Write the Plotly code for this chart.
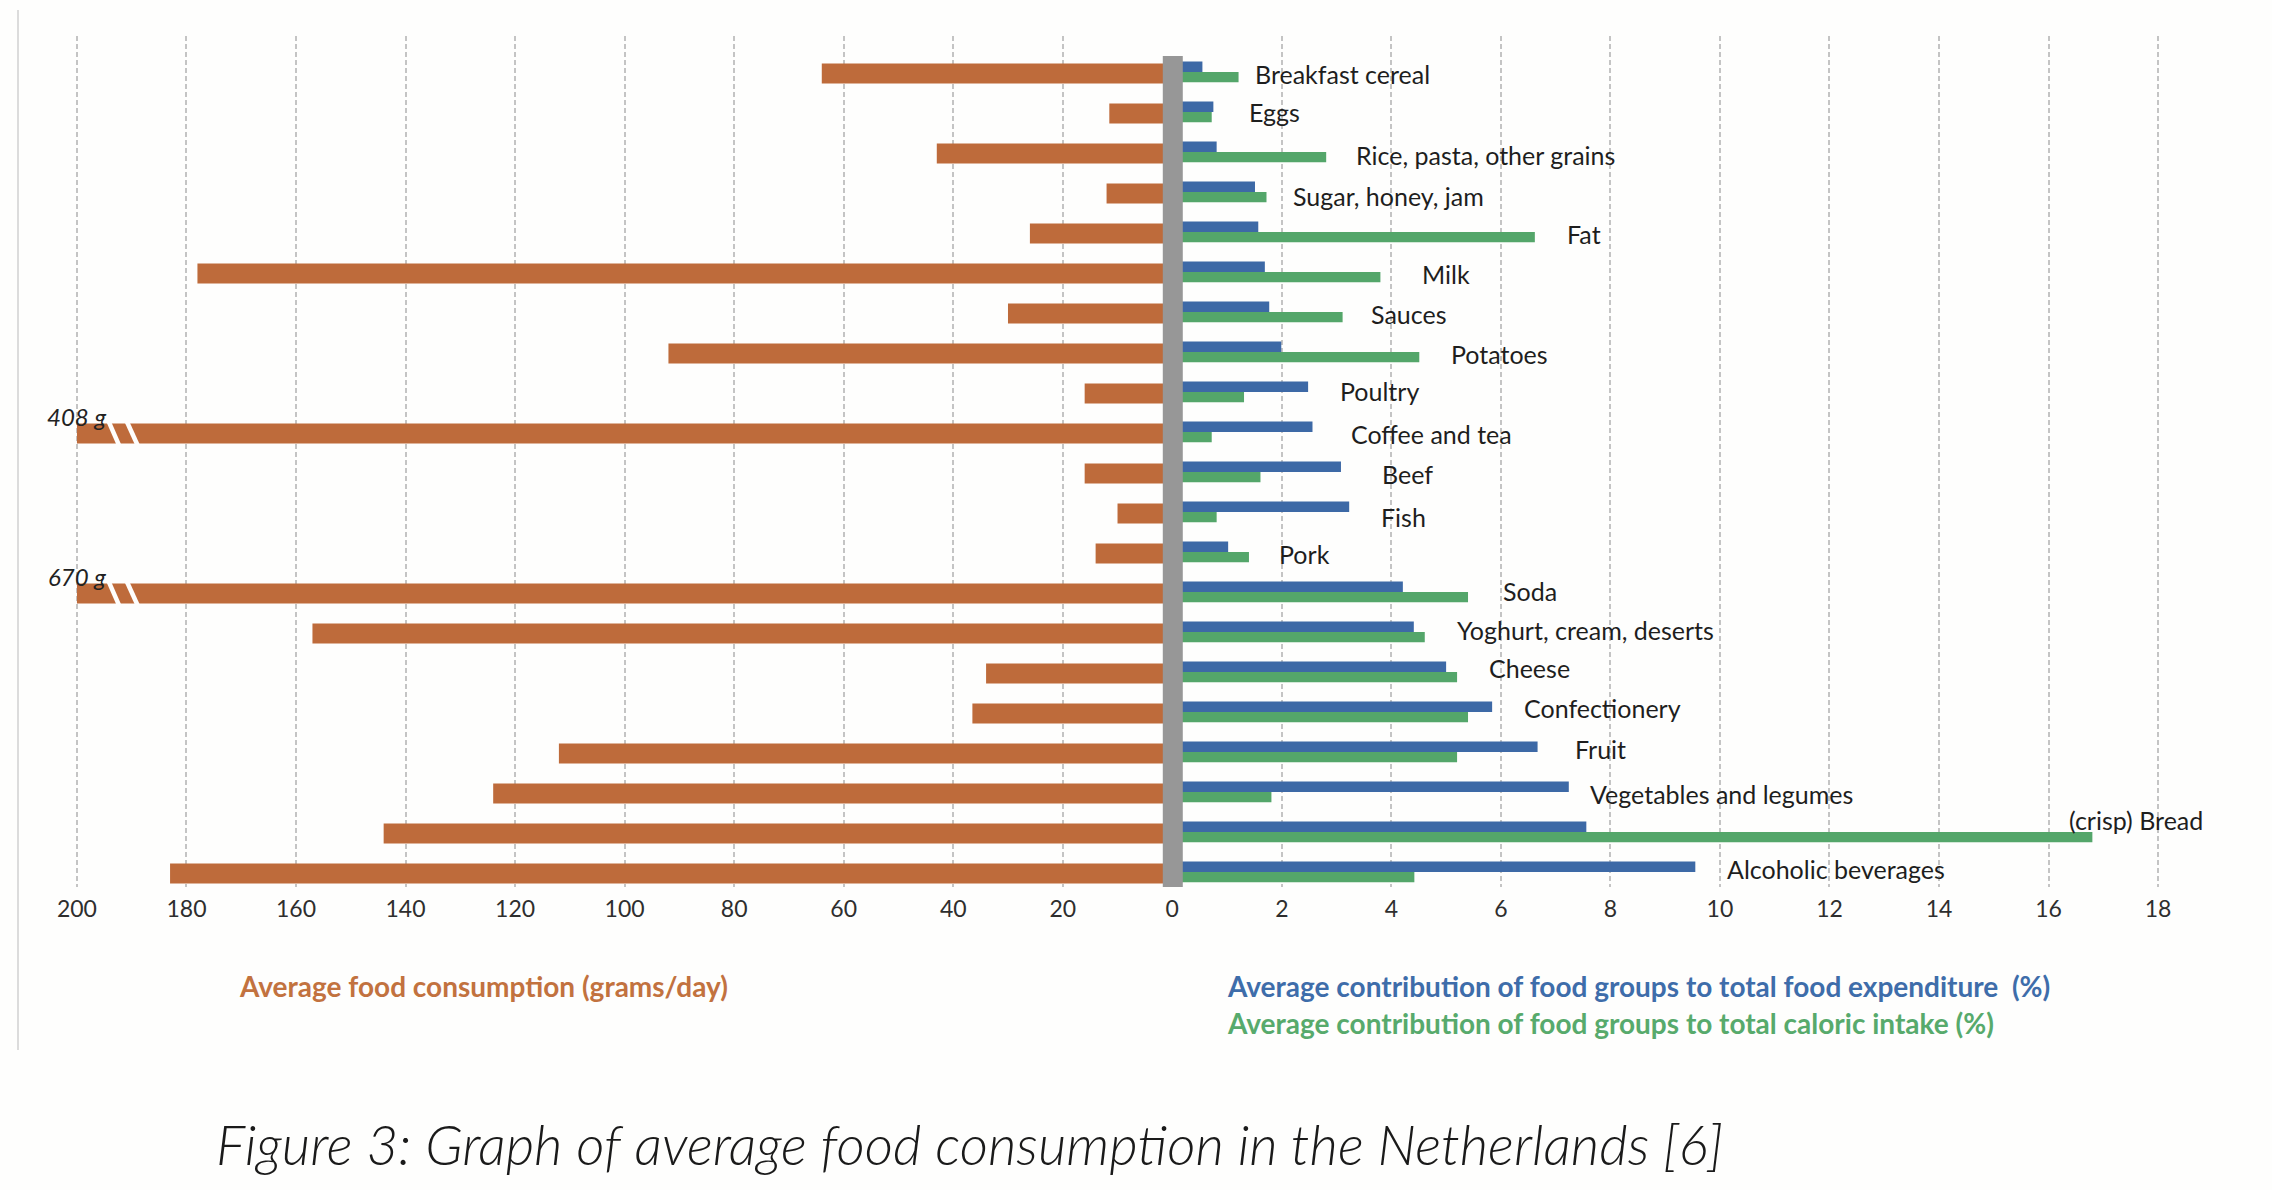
import plotly.graph_objects as go

# ---------------- data ----------------
categories = [
    "Breakfast cereal", "Eggs", "Rice, pasta, other grains", "Sugar, honey, jam",
    "Fat", "Milk", "Sauces", "Potatoes", "Poultry", "Coffee and tea", "Beef",
    "Fish", "Pork", "Soda", "Yoghurt, cream, deserts", "Cheese", "Confectionery",
    "Fruit", "Vegetables and legumes", "(crisp) Bread", "Alcoholic beverages",
]
consumption_g = [64, 11.5, 43, 12, 26, 178, 30, 92, 16, 408, 16, 10, 14, 670,
                 157, 34, 36.5, 112, 124, 144, 183]
expenditure_pct = [0.55, 0.75, 0.81, 1.51, 1.57, 1.69, 1.77, 1.99, 2.48, 2.56,
                   3.08, 3.23, 1.02, 4.21, 4.41, 5.00, 5.84, 6.67, 7.24, 7.56, 9.55]
caloric_pct = [1.21, 0.72, 2.81, 1.72, 6.62, 3.80, 3.11, 4.51, 1.31, 0.72, 1.61,
               0.81, 1.40, 5.40, 4.61, 5.20, 5.40, 5.20, 1.81, 16.8, 4.42]
gram_ticks = [0, 20, 40, 60, 80, 100, 120, 140, 160, 180, 200]
pct_ticks = [2, 4, 6, 8, 10, 12, 14, 16, 18]

title_grams = "Average food consumption (grams/day)"
title_exp = "Average contribution of food groups to total food expenditure  (%)"
title_cal = "Average contribution of food groups to total caloric intake (%)"
caption = "Figure 3: Graph of average food consumption in the Netherlands [6]"

# ---------------- style / layout ----------------
W, H = 2272, 1190
ML, MR, MT, MB = 66, 92, 36, 303
PW, PH = W - ML - MR, H - MT - MB
G_AXIS_MAX = 200          # grams axis is cut at 200 g
G_RANGE = 202
P_RANGE = 18.4
SPLIT = G_RANGE / (G_RANGE + P_RANGE * 10)  # same px per 10 g and per 1 %
Y_TOP, Y_BOTTOM = -0.9375, 20.3375

ORANGE = "#BE6B3B"
BLUE = "#3D69A6"
GREEN = "#54A66A"
GRAY = "#979797"
FONT = "Lato"
BG = "#fefefd"

# hand-placed label nudges (pixels) as in the original figure
LABEL_GAP = {"Breakfast cereal": 14, "Eggs": 34, "Rice, pasta, other grains": 28,
             "Sugar, honey, jam": 25, "Milk": 40, "Sauces": 26, "Coffee and tea": 37,
             "Beef": 39, "Pork": 28, "Soda": 33, "Fruit": 35,
             "Vegetables and legumes": 19, "(crisp) Bread": -25}
LABEL_DY = {"Eggs": 2, "Rice, pasta, other grains": -1, "Sugar, honey, jam": -2,
            "Poultry": 3, "Fish": -3, "Soda": 3, "Yoghurt, cream, deserts": 4,
            "Cheese": 6, "Confectionery": 6, "Fruit": 5, "(crisp) Bread": 14,
            "Alcoholic beverages": 5}


def px_x(p):
    return (p - ML) / PW


def px_y(p):
    return (H - MB - p) / PH


fig = go.Figure()

shown_g = [min(v, G_AXIS_MAX) for v in consumption_g]
fig.add_trace(go.Bar(
    y=categories, x=shown_g, customdata=consumption_g, orientation="h",
    xaxis="x", yaxis="y", marker=dict(color=ORANGE, line=dict(width=0)),
    width=0.5, offset=-0.25, name=title_grams,
    hovertemplate="%{y}: %{customdata} g<extra></extra>",
))
fig.add_trace(go.Bar(
    y=categories, x=expenditure_pct, orientation="h", xaxis="x2", yaxis="y",
    marker=dict(color=BLUE, line=dict(width=0)), width=0.26, offset=-0.30,
    name=title_exp,
))
fig.add_trace(go.Bar(
    y=categories, x=caloric_pct, orientation="h", xaxis="x2", yaxis="y",
    marker=dict(color=GREEN, line=dict(width=0)), width=0.26, offset=-0.04,
    name=title_cal,
))

grid = dict(showgrid=True, gridcolor="#c4c4c4", gridwidth=1.5, griddash="5px,3px",
            zeroline=False, showline=False, ticks="",
            tickfont=dict(family=FONT, size=23, color="#2e2e2e"),
            ticklabelstandoff=6, fixedrange=True)

fig.update_layout(
    width=W, height=H,
    margin=dict(l=ML, r=MR, t=MT, b=MB),
    paper_bgcolor=BG, plot_bgcolor=BG,
    showlegend=False, barmode="overlay",
    xaxis=dict(domain=[0, SPLIT], range=[G_RANGE, 0], tickvals=gram_ticks,
               anchor="y", **grid),
    xaxis2=dict(domain=[SPLIT, 1], range=[0, P_RANGE], tickvals=pct_ticks,
                anchor="y", **grid),
    yaxis=dict(type="category", categoryorder="array", categoryarray=categories,
               range=[Y_BOTTOM, Y_TOP], showticklabels=False, showgrid=False,
               zeroline=False, showline=False, ticks="", fixedrange=True),
)

shapes = []
# grey centre bar
shapes.append(dict(type="rect", xref="paper", yref="y",
                   x0=SPLIT - 9.5 / PW, x1=SPLIT + 10.5 / PW,
                   y0=-0.44, y1=Y_BOTTOM, fillcolor=GRAY,
                   line=dict(width=0), layer="above"))
# light frame line at the left
shapes.append(dict(type="line", xref="paper", yref="paper",
                   x0=px_x(18), x1=px_x(18), y0=px_y(10), y1=px_y(1050),
                   line=dict(color="#dcdcdc", width=2)))

annotations = []
# axis break marks + true values for bars beyond the axis
for i, (cat, v) in enumerate(zip(categories, consumption_g)):
    if v > G_AXIS_MAX:
        for gx0, gx1 in [(194.3, 192.2), (191.0, 188.8)]:
            shapes.append(dict(type="line", xref="x", yref="y",
                               x0=gx0, x1=gx1, y0=i - 0.33, y1=i + 0.33,
                               line=dict(color=BG, width=4.5), layer="above"))
        annotations.append(dict(
            x=G_AXIS_MAX, y=cat, xref="x", yref="y", xanchor="center",
            yanchor="middle", yshift=17, showarrow=False, text=f"{v:g} g",
            font=dict(family=FONT, size=24, color="#222222", style="italic")))

# category labels right of the bar pairs
for cat, e, c in zip(categories, expenditure_pct, caloric_pct):
    annotations.append(dict(
        x=max(e, c), y=cat, xref="x2", yref="y", xanchor="left",
        yanchor="middle", showarrow=False, text=cat,
        xshift=LABEL_GAP.get(cat, 30), yshift=LABEL_DY.get(cat, 0),
        font=dict(family=FONT, size=25, color="#1e1e1e")))

# series titles
annotations.append(dict(x=px_x(237), y=px_y(986), xref="paper", yref="paper",
                        xanchor="left", yanchor="middle", showarrow=False,
                        text=title_grams,
                        font=dict(family=FONT, size=28, color="#C2723F", weight="bold")))
annotations.append(dict(x=px_x(1225), y=px_y(986), xref="paper", yref="paper",
                        xanchor="left", yanchor="middle", showarrow=False,
                        text=title_exp.replace("  ", "&nbsp; "),
                        font=dict(family=FONT, size=28, color="#3E6DAA", weight="bold")))
annotations.append(dict(x=px_x(1225), y=px_y(1023), xref="paper", yref="paper",
                        xanchor="left", yanchor="middle", showarrow=False,
                        text=title_cal,
                        font=dict(family=FONT, size=28, color="#57AA6C", weight="bold")))
# caption
annotations.append(dict(x=px_x(214), y=px_y(1144), xref="paper", yref="paper",
                        xanchor="left", yanchor="middle", showarrow=False,
                        text=caption,
                        font=dict(family=FONT, size=55, color="#1a1a1a",
                                  style="italic", weight=300)))

fig.update_layout(shapes=shapes, annotations=annotations)
fig.write_html(
    "out.html",
    config={"displayModeBar": False},
    post_script="document.body.style.margin='0';"
                "document.body.style.overflow='hidden';"
                "document.documentElement.style.overflow='hidden';",
)
